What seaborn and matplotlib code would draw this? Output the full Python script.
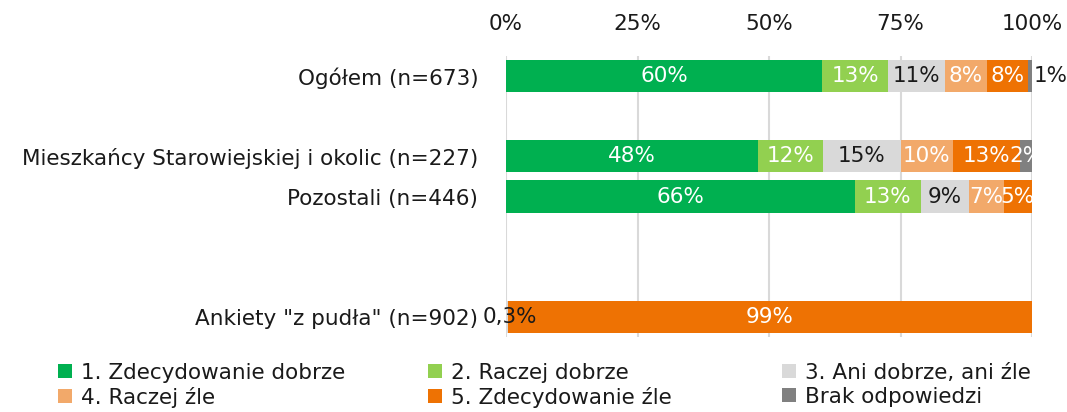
import numpy as np
import pandas as pd
import matplotlib
matplotlib.use("Agg")
import matplotlib.pyplot as plt
from matplotlib.patches import Patch
import seaborn as sns

sns.set_theme(style="white")
plt.rcParams['font.family'] = ['DejaVu Sans']
FS = 15.5

# ---- data ----
groups = ["Ogółem (n=673)", " ", "Mieszkańcy Starowiejskiej i okolic (n=227)",
          "Pozostali (n=446)", "  ", "   ", "Ankiety \"z pudła\" (n=902)"]
data_groups = ["Ogółem (n=673)", "Mieszkańcy Starowiejskiej i okolic (n=227)",
               "Pozostali (n=446)", "Ankiety \"z pudła\" (n=902)"]
categories = ["1. Zdecydowanie dobrze", "2. Raczej dobrze", "3. Ani dobrze, ani źle",
              "4. Raczej źle", "5. Zdecydowanie źle", "Brak odpowiedzi"]
colors = ["#00B050", "#92D050", "#D9D9D9", "#F2A96A", "#EE7203", "#808080"]
text_colors = ["white", "white", "#1a1a1a", "white", "white", "white"]

v_ogolem = [60.1, 12.6, 10.8, 7.9, 7.8, 0.8]
v_miesz = [48.0, 12.3, 14.7, 10.0, 12.8, 2.2]
v_pozost = [66.3, 12.6, 9.1, 6.6, 5.4, 0.0]
v_ankiety = [0.0, 0.0, 0.3, 0.0, 99.7, 0.0]

l_ogolem = ["60%", "13%", "11%", "8%", "8%", "1%"]
l_miesz = ["48%", "12%", "15%", "10%", "13%", "2%"]
l_pozost = ["66%", "13%", "9%", "7%", "5%", ""]
l_ankiety = ["", "", "0,3%", "", "99%", ""]

values = [v_ogolem, v_miesz, v_pozost, v_ankiety]
labels = [l_ogolem, l_miesz, l_pozost, l_ankiety]

rows = []
for g, vals, labs in zip(data_groups, values, labels):
    cum = 0.0
    for c, v, lab in zip(categories, vals, labs):
        rows.append(dict(group=g, category=c, value=v, start=cum, cum=cum + v, label=lab))
        cum += v
df = pd.DataFrame(rows)

fig = plt.figure(figsize=(10.67, 4.12), dpi=100)
ax = fig.add_axes([506 / 1067, 1 - 337 / 412, (1032 - 506) / 1067, (337 - 56) / 412])

for k in reversed(range(len(categories))):
    sub = df[df.category == categories[k]]
    sns.barplot(data=sub, x="cum", y="group", order=groups, color=colors[k],
                saturation=1, width=0.8, orient="h", ax=ax, errorbar=None,
                linewidth=0)

ypos = {g: i for i, g in enumerate(groups)}
for _, r in df.iterrows():
    if not r.label:
        continue
    k = categories.index(r.category)
    y = ypos[r.group]
    if r.category == "Brak odpowiedzi" and r.value < 1.5:
        ax.text(r.cum + 0.4, y, r.label, ha="left", va="center", fontsize=FS,
                color="#1a1a1a", clip_on=False)
    elif r.category == "3. Ani dobrze, ani źle" and r.value < 1:
        ax.text(r.start + 0.8, y, r.label, ha="center", va="center", fontsize=FS,
                color="#1a1a1a", clip_on=False, zorder=5)
    else:
        ax.text(r.start + r.value / 2, y, r.label, ha="center", va="center",
                fontsize=FS, color=text_colors[k], zorder=5)

ax.set_xlim(0, 100)
ax.set_ylim(6.5, -0.5)
ax.set_xticks([0, 25, 50, 75, 100])
ax.set_xticklabels(["0%", "25%", "50%", "75%", "100%"])
ax.xaxis.tick_top()
ax.set_xlabel("")
ax.set_ylabel("")
ax.tick_params(axis="x", length=0, pad=16, labelsize=FS, colors="#1a1a1a")
ax.tick_params(axis="y", length=0, pad=20, labelsize=FS, colors="#1a1a1a")
ax.grid(axis="x", color="#D9D9D9", linewidth=1.5)
ax.set_axisbelow(True)
for s in ax.spines.values():
    s.set_visible(False)

handles = [Patch(facecolor=c, edgecolor="none") for c in colors]
col_x = [58 / 1067, 428 / 1067, 782 / 1067]
for j in range(3):
    idx = [j, j + 3]
    fig.legend([handles[i] for i in idx], [categories[i] for i in idx],
               loc="upper left", bbox_to_anchor=(col_x[j], 0.12), ncol=1,
               frameon=False, fontsize=FS, handlelength=0.65, handleheight=0.65,
               handletextpad=0.4, labelspacing=0.2, borderpad=0,
               borderaxespad=0, labelcolor="#1a1a1a")

fig.savefig("out.png", dpi=100)
